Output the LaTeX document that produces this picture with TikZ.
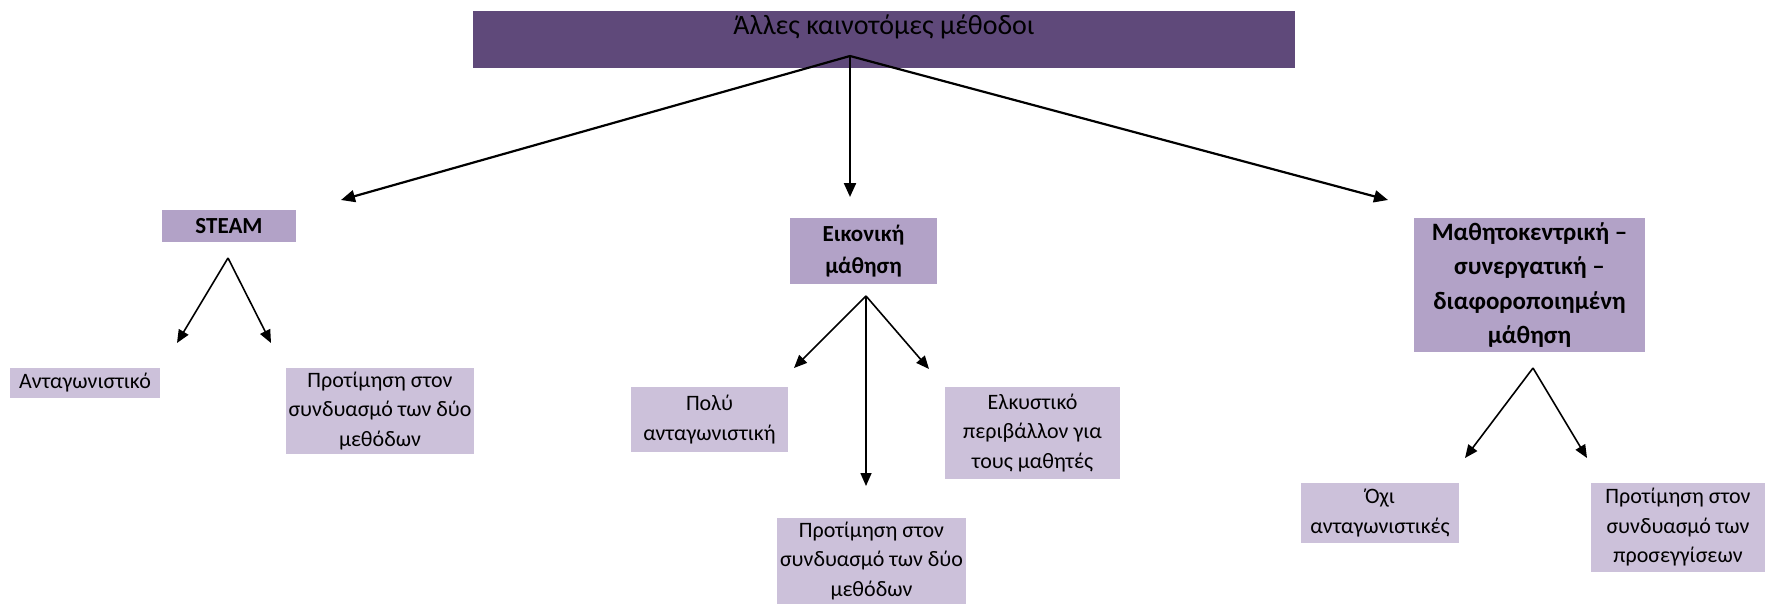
\documentclass[tikz,border=0pt]{standalone}
\usepackage{fontspec}
\setmainfont{Carlito}
\usetikzlibrary{arrows.meta}
\definecolor{darkviolet}{HTML}{5F497A}
\definecolor{midviolet}{HTML}{B2A2C7}
\definecolor{paleviolet}{HTML}{CCC1DA}

\begin{document}
\begin{tikzpicture}[x=1pt,y=-1pt,
  titlebox/.style={fill=darkviolet, inner sep=0pt},
  titletext/.style={inner sep=0pt, font=\fontsize{28}{32}\selectfont},
  catbox/.style={fill=midviolet, inner sep=0pt, align=center,
    font=\fontsize{23}{32}\selectfont\bfseries},
  leafbox/.style={fill=paleviolet, inner sep=0pt, align=center,
    font=\fontsize{22}{29.5}\selectfont},
  mainarrow/.style={line width=2.2pt, -{Triangle[length=14pt,width=12pt]}},
  subarrow/.style={line width=1.6pt, -{Triangle[length=13pt,width=11pt]}},
]
\useasboundingbox (0,0) rectangle (1765,603);

% root
\node[titlebox, minimum width=822pt, minimum height=57pt] (root) at (884,39.5) {};
\node[titletext] (roottext) at (884,27) {Άλλες καινοτόμες μέθοδοι};

% categories
\node[catbox, minimum width=134pt, minimum height=32pt] (steam) at (229,226) {STEAM};
\node[catbox, minimum width=147pt, minimum height=66pt] (virtual) at (863.5,251) {Εικονική\\μάθηση};
\node[catbox, minimum width=231pt, minimum height=134pt,
  font=\fontsize{25}{34.5}\selectfont\bfseries] (centred) at (1529.5,285)
  {Μαθητοκεντρική –\\συνεργατική –\\διαφοροποιημένη\\μάθηση};

% leaves
\node[leafbox, minimum width=150pt, minimum height=30pt] (compet) at (85,383) {Ανταγωνιστικό};
\node[leafbox, minimum width=188pt, minimum height=86pt] (prefa) at (380,411)
  {Προτίμηση στον\\συνδυασμό των δύο\\μεθόδων};
\node[leafbox, minimum width=157pt, minimum height=65pt] (verycompet) at (709.5,419.5)
  {Πολύ\\ανταγωνιστική};
\node[leafbox, minimum width=175pt, minimum height=92pt] (attractive) at (1032.5,433)
  {Ελκυστικό\\περιβάλλον για\\τους μαθητές};
\node[leafbox, minimum width=189pt, minimum height=86pt] (prefb) at (871.5,561)
  {Προτίμηση στον\\συνδυασμό των δύο\\μεθόδων};
\node[leafbox, minimum width=158pt, minimum height=60pt] (noncompet) at (1380,513)
  {Όχι\\ανταγωνιστικές};
\node[leafbox, minimum width=174pt, minimum height=89pt] (prefc) at (1678,527.5)
  {Προτίμηση στον\\συνδυασμό των\\προσεγγίσεων};

% fork points and arrow tips
\coordinate (rootfork) at (850,56);
\coordinate (tsteam) at (341,200);
\coordinate (tvirtual) at (850,197);
\coordinate (tcentred) at (1388,200);

\coordinate (steamfork) at (228,258);
\coordinate (tcompet) at (177,343);
\coordinate (tprefa) at (271,343);

\coordinate (virtualfork) at (866,296);
\coordinate (tverycompet) at (794,368);
\coordinate (tprefb) at (866,486);
\coordinate (tattractive) at (929,369);

\coordinate (centredfork) at (1533,368);
\coordinate (tnoncompet) at (1465,458);
\coordinate (tprefc) at (1587,458);

\draw[mainarrow] (rootfork) -- (tsteam);
\draw[mainarrow] (rootfork) -- (tvirtual);
\draw[mainarrow] (rootfork) -- (tcentred);

\draw[subarrow] (steamfork) -- (tcompet);
\draw[subarrow] (steamfork) -- (tprefa);

\draw[subarrow] (virtualfork) -- (tverycompet);
\draw[subarrow] (virtualfork) -- (tprefb);
\draw[subarrow] (virtualfork) -- (tattractive);

\draw[subarrow] (centredfork) -- (tnoncompet);
\draw[subarrow] (centredfork) -- (tprefc);
\end{tikzpicture}
\end{document}
